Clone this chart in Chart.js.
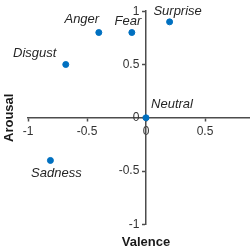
<!DOCTYPE html>
<html>
<head>
<meta charset="utf-8">
<script src="https://cdn.jsdelivr.net/npm/chart.js@4/dist/chart.umd.min.js"></script>
<style>
    html, body {margin: 0; padding: 0; background: #fff; overflow: hidden;}
    #wrap {width: 250px; height: 250px; overflow: hidden;}
</style>
</head>
<body>
<div id="wrap"><canvas id="chart" width="300" height="250"></canvas></div>
<script>
// emotions on the valence / arousal plane
const emotions = ["Neutral", "Surprise", "Fear", "Anger", "Disgust", "Sadness"];
const valence = [0, 0.2, -0.12, -0.4, -0.68, -0.81];
const arousal = [0, 0.9, 0.8, 0.8, 0.5, -0.4];
const axisTicks = [-1, -0.5, 0, 0.5, 1];

// where each label sits relative to its point (pixels)
const labelOffsets = {
    "Neutral": [26, -13],
    "Surprise": [8, -10],
    "Fear": [-4, -11],
    "Anger": [-17, -13],
    "Disgust": [-31, -11],
    "Sadness": [6, 13],
};

const axisColor = "#4d4d4d";
const font = "'Liberation Sans', Arial, sans-serif";

const pointLabels = {
    id: "pointLabels",
    afterDatasetsDraw(chart) {
        const ctx = chart.ctx;
        const meta = chart.getDatasetMeta(0);
        ctx.save();
        ctx.font = "italic 13px " + font;
        ctx.fillStyle = "#262626";
        ctx.textAlign = "center";
        ctx.textBaseline = "middle";
        meta.data.forEach((pt, i) => {
            const off = labelOffsets[emotions[i]];
            ctx.fillText(emotions[i], pt.x + off[0], pt.y + off[1]);
        });
        ctx.restore();
    }
};

function axisOptions(crossAt, fmt) {
    return {
        type: "linear",
        min: -1,
        max: 1,
        position: crossAt,
        afterBuildTicks: (scale) => {
            scale.ticks = axisTicks.map(v => ({value: v}));
        },
        ticks: {
            color: "#333",
            padding: 4,
            font: {family: font, size: 12},
            callback: fmt,
        },
        grid: {
            drawOnChartArea: false,
            drawTicks: true,
            tickLength: 3,
            tickColor: axisColor,
            tickWidth: 1.5,
        },
        border: {color: axisColor, width: 1.5},
    };
}

// centred y axis puts its labels right on the line, so pad them with spaces
const xAxis = axisOptions({y: 0}, (v) => String(v));
xAxis.afterFit = (scale) => { scale.height = 0; };
const yAxis = axisOptions({x: 0}, (v) => String(v) + "  ");
yAxis.afterFit = (scale) => { scale.width = 0; };

new Chart(document.getElementById("chart"), {
    type: "scatter",
    data: {
        datasets: [{
            data: emotions.map((e, i) => ({x: valence[i], y: arousal[i]})),
            backgroundColor: "#0070c0",
            borderColor: "#0070c0",
            pointRadius: 3,
        }]
    },
    options: {
        responsive: false,
        animation: false,
        layout: {padding: {top: 10, right: 36, left: 0, bottom: 0}},
        scales: {x: xAxis, y: yAxis},
        plugins: {
            legend: {display: false},
            tooltip: {enabled: false},
            title: {
                display: true,
                text: "Valence",
                position: "bottom",
                fullSize: false,
                color: "#1a1a1a",
                font: {family: font, size: 13, weight: "bold"},
                padding: {top: 10, bottom: 0},
            },
            subtitle: {
                display: true,
                text: "Arousal",
                position: "left",
                fullSize: false,
                color: "#1a1a1a",
                font: {family: font, size: 13, weight: "bold"},
                padding: {top: 2, bottom: 10.4},
            },
        },
    },
    plugins: [pointLabels],
});
</script>
</body>
</html>
